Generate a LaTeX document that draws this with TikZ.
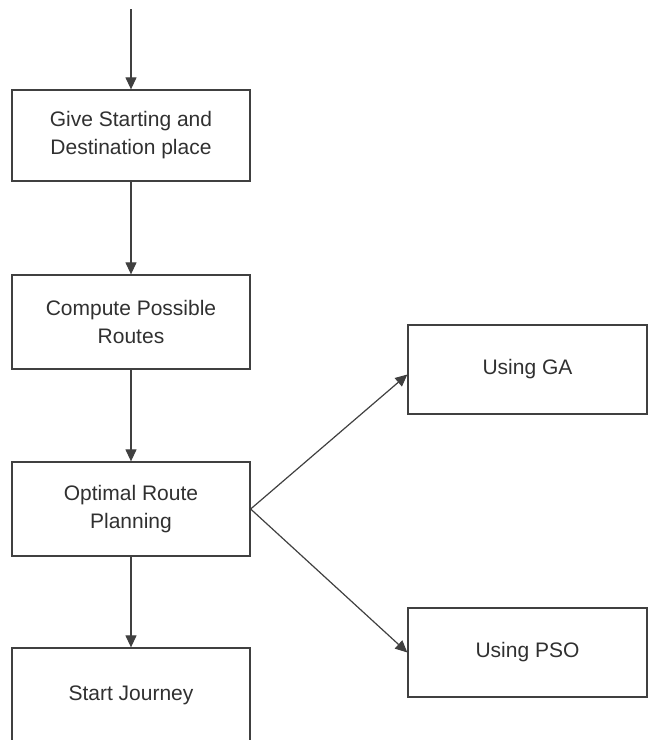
\documentclass[tikz,border=0pt]{standalone}
\usepackage{fontspec}
\setmainfont{Liberation Sans}
\usetikzlibrary{arrows.meta}
\definecolor{linec}{HTML}{404040}
\definecolor{textc}{HTML}{303030}
\tikzset{
  box/.style={draw=linec, line width=1.3pt, rectangle, minimum width=238pt, inner sep=0pt,
    align=center, text=textc, font=\fontsize{21}{28}\selectfont},
  conn/.style={draw=linec, line width=1.2pt, -{Triangle[length=12pt,width=11pt]}}
}
\begin{document}
\begin{tikzpicture}[x=1pt,y=-1pt]
\useasboundingbox (0,0) rectangle (652,740);
\clip (0,0) rectangle (652,740);
\coordinate (start) at (131,9);
\node[box, minimum height=91pt] (give) at (131,135.5) {Give Starting and\\Destination place};
\node[box, minimum height=94pt] (compute) at (131,322) {Compute Possible\\Routes};
\node[box, minimum height=94pt] (optimal) at (131,509) {Optimal Route\\Planning};
\node[box, minimum height=94pt] (journey) at (131,695) {Start Journey};
\node[box, minimum width=239pt, minimum height=89pt] (ga) at (527.5,369.5) {Using GA};
\node[box, minimum width=239pt, minimum height=89pt] (pso) at (527.5,652.5) {Using PSO};
\draw[conn] (start) -- (give.north);
\draw[conn] (give.south) -- (compute.north);
\draw[conn] (compute.south) -- (optimal.north);
\draw[conn] (optimal.south) -- (journey.north);
\draw[conn] (optimal.east) -- ([yshift=-5pt]ga.west);
\draw[conn] (optimal.east) -- (pso.west);
\end{tikzpicture}
\end{document}
